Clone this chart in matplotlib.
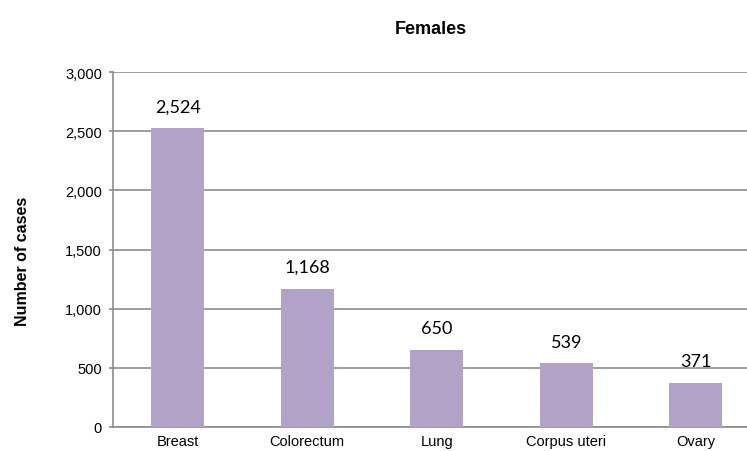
import matplotlib
matplotlib.use("Agg")
import matplotlib.pyplot as plt

categories = ["Breast", "Colorectum", "Lung", "Corpus uteri", "Ovary"]
values = [2524, 1168, 650, 539, 371]
yticks = [0, 500, 1000, 1500, 2000, 2500, 3000]

fig = plt.figure(figsize=(7.47, 4.52), dpi=100)
ax = fig.add_axes([113/747, 1-428/452, 647.5/747, 355/452])

bar_color = "#B3A2C7"
grid_color = "#8C8C8C"
ax.bar(range(len(categories)), values, width=0.41, color=bar_color, zorder=3)
ax.set_xlim(-0.5, len(categories) - 0.5)
ax.set_ylim(0, 3000)
ax.set_yticks(yticks)
ax.set_yticklabels([f"{v:,}" for v in yticks], family="Liberation Sans", fontsize=10.5)
ax.set_xticks(range(len(categories)))
ax.set_xticklabels(categories, family="Liberation Sans", fontsize=10.5)
ax.yaxis.grid(True, color=grid_color, linewidth=1.2, zorder=0)
ax.tick_params(axis="y", length=3, color=grid_color, width=1.2, pad=5)
ax.tick_params(axis="x", length=0, pad=5)
for s in ["top", "right"]:
    ax.spines[s].set_visible(False)
for s in ["left", "bottom"]:
    ax.spines[s].set_color(grid_color)
    ax.spines[s].set_linewidth(1.2)

for i, v in enumerate(values):
    ax.annotate(f"{v:,}", (i, v), xytext=(0, 12), textcoords="offset points",
                ha="center", va="baseline", family="Lato", fontsize=13)

fig.text(431/747, 1-30/452, "Females", ha="center", va="center",
         family="Liberation Sans", fontweight="bold", fontsize=13)
fig.text(23/747, 1-261/452, "Number of cases", rotation=90, ha="center", va="center",
         family="Liberation Sans", fontweight="bold", fontsize=11.5)

fig.savefig("out.png", dpi=100)
